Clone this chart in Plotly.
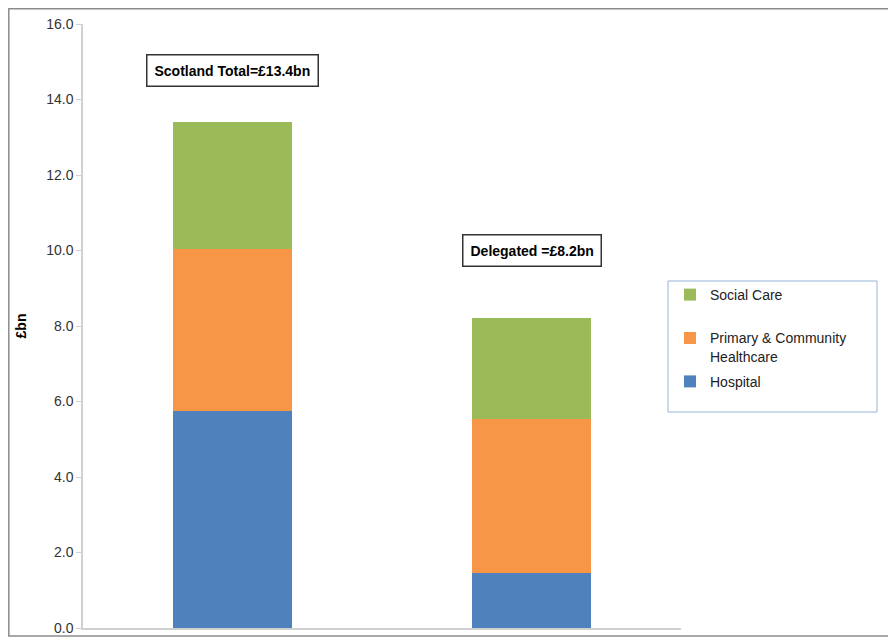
import plotly.graph_objects as go

categories = ["Scotland Total", "Delegated"]
hospital = [5.75, 1.46]
primary = [4.29, 4.07]
social = [3.36, 2.67]
totals_labels = ["Scotland Total=£13.4bn", "Delegated =£8.2bn"]
label_y = [14.78, 9.99]
y_ticks = [0, 2, 4, 6, 8, 10, 12, 14, 16]

W, H = 888, 630
L, R, T, B = 75, 215, 16, 10
pw, ph = W - L - R, H - T - B

def px(xf):  # figure x pixel -> paper
    return (xf - L) / pw

def py(yf):  # figure y pixel -> paper
    return (H - B - yf) / ph

fig = go.Figure()
fig.add_bar(x=categories, y=hospital, name="Hospital", marker_color="#4f81bd",
            marker_line_width=0, legendgroup="h", legendrank=3)
fig.add_bar(x=categories, y=primary, name="Primary & Community<br>Healthcare", marker_color="#f79646",
            marker_line_width=0, legendgroup="p", legendrank=2)
fig.add_bar(x=categories, y=social, name="Social Care<br> ", marker_color="#9bbb59",
            marker_line_width=0, legendgroup="s", legendrank=1)

for c, t, yy in zip(categories, totals_labels, label_y):
    fig.add_annotation(x=c, y=yy, text="<b>" + t + "</b>", showarrow=False,
                       font=dict(family="Liberation Sans, Arial", size=14, color="#000000"),
                       bordercolor="#333333", borderwidth=1.5, borderpad=7, bgcolor="white")

# outer chart border
fig.add_shape(type="rect", xref="paper", yref="paper", x0=px(0.8), x1=px(W + 5), y0=py(H - 2), y1=py(0.8),
              line=dict(color="#8c8c8c", width=1.5), layer="below")
# legend border
fig.add_shape(type="rect", xref="paper", yref="paper", x0=px(660), x1=px(869),
              y0=py(404), y1=py(273), line=dict(color="#95b3d7", width=1))

fig.update_layout(
    barmode="stack",
    bargap=0.6,
    width=W, height=H,
    margin=dict(l=L, r=R, t=T, b=B, autoexpand=False),
    paper_bgcolor="white", plot_bgcolor="white",
    font=dict(family="Liberation Sans, Arial", size=14, color="#333333"),
    showlegend=True,
    legend=dict(x=px(662), y=py(271), xanchor="left", yanchor="top",
                traceorder="grouped", valign="top", bgcolor="rgba(0,0,0,0)", borderwidth=0,
                font=dict(size=14, color="#222222"), tracegroupgap=4, itemwidth=30),
    xaxis=dict(showticklabels=False, showline=True, linecolor="#d0d0d0", linewidth=1.5,
               ticks="", showgrid=False, zeroline=False),
    yaxis=dict(range=[0, 16], tickvals=y_ticks, ticktext=[f"{v:.1f}" for v in y_ticks],
               showline=True, linecolor="#d0d0d0", linewidth=1.5, ticks="outside",
               ticklen=5, tickcolor="#d0d0d0", showgrid=False, zeroline=False,
               tickfont=dict(size=14, color="#333333"),
               title=dict(text="<b>£bn</b>", font=dict(size=14, color="#000000"), standoff=16)),
)

fig.write_html("out.html")
